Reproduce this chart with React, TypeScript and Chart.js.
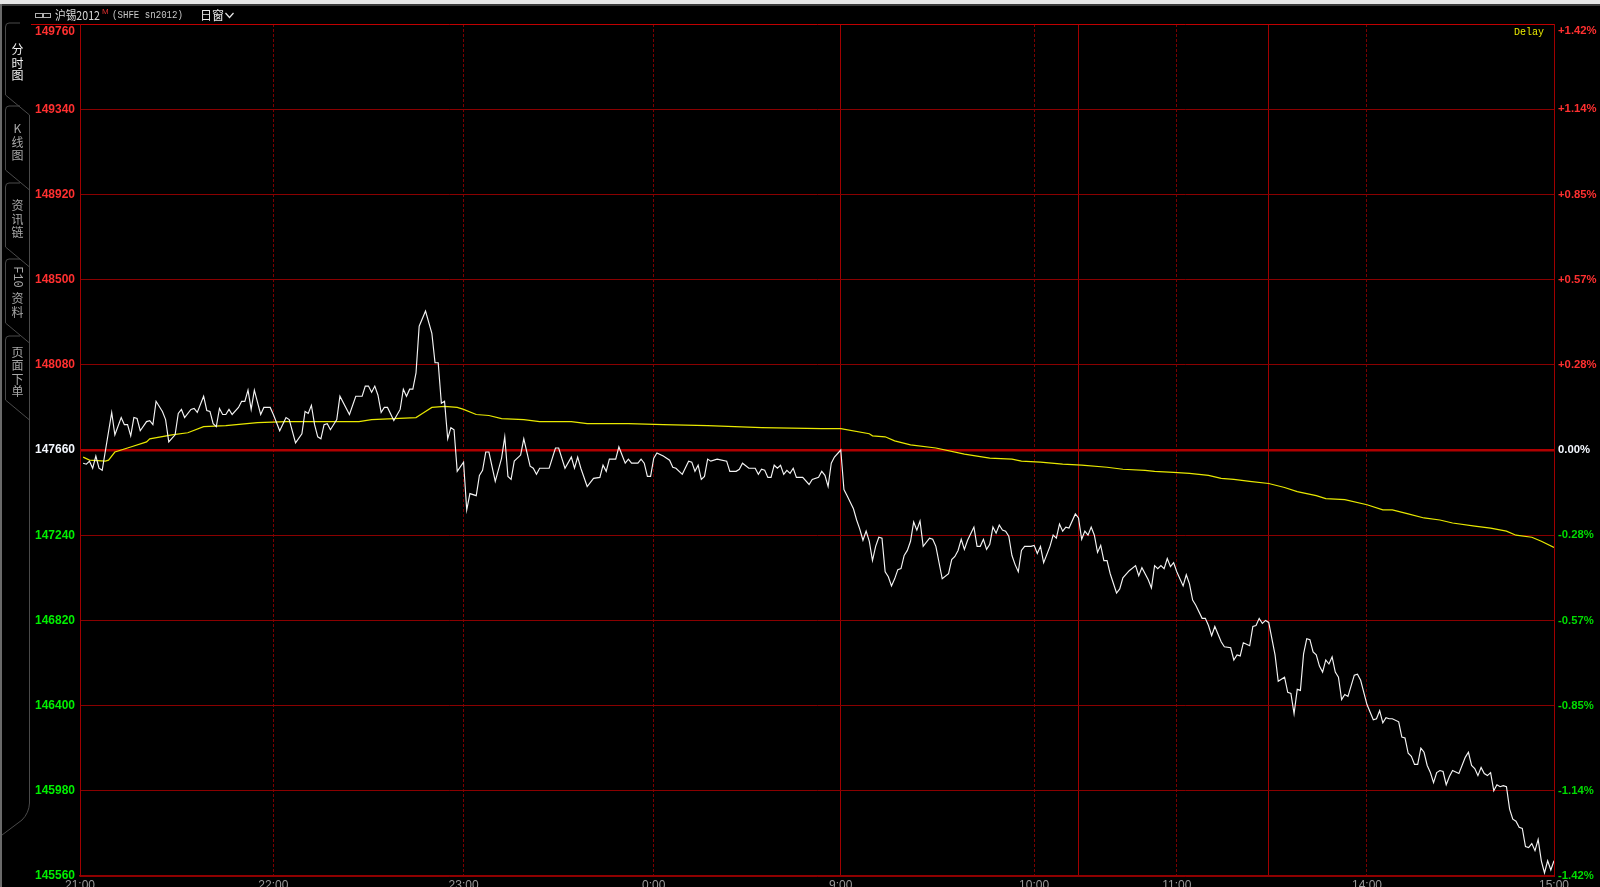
import React, { useEffect, useRef } from "react";
import { Chart, registerables } from "chart.js";

Chart.register(...registerables);

const priceTicks = [149760, 149340, 148920, 148500, 148080, 147660, 147240, 146820, 146400, 145980, 145560];
const pctLabels = ["+1.42%", "+1.14%", "+0.85%", "+0.57%", "+0.28%", "0.00%", "-0.28%", "-0.57%", "-0.85%", "-1.14%", "-1.42%"];
const timeTicks = [0, 61, 121, 181, 240, 301, 315, 346, 375, 406, 465];
const timeLabels = ["21:00", "22:00", "23:00", "0:00", "9:00", "10:00", "", "11:00", "", "14:00", "15:00"];
const sessionBreaks = [0, 240, 315, 375, 465];

const priceMinutes = [
  1, 2, 3, 4, 5, 6, 7, 10, 11, 13, 14, 15, 16, 17, 18, 19, 21, 22, 23, 24, 26, 27, 28, 30, 31, 32, 33, 35, 36, 37, 39, 40, 41, 42, 43, 44, 45, 46, 47, 48,
  50, 51, 52, 53, 54, 55, 57, 58, 60, 61, 63, 65, 66, 68, 70, 71, 72, 73, 74, 75, 76, 77, 78, 79, 81, 82, 85, 87, 89, 90, 91, 92, 93, 94, 95, 96, 97, 99,
  101, 102, 103, 104, 105, 106, 107, 109, 111, 112, 113, 114, 115, 116, 117, 118, 119, 121, 122, 123, 125, 126, 127, 128, 129, 131, 133, 134, 135, 136, 137, 139,
  140, 142, 143, 144, 145, 148, 150, 151, 153, 155, 156, 157, 158, 160, 162, 164, 165, 166, 167, 169, 170, 172, 173, 174, 176, 177, 178, 179, 180,
  181, 182, 184, 186, 187, 188, 190, 192, 193, 194, 195, 196, 197, 198, 199, 201, 204, 205, 207, 208, 209, 211, 213, 214, 215, 216, 217, 218, 219, 220,
  221, 222, 223, 224, 225, 226, 228, 230, 231, 233, 234, 235, 236, 237, 238, 240,
  241, 242, 244, 245, 246, 247, 248, 249, 250, 251, 252, 253, 254, 255, 256, 257, 258, 259, 260, 261, 262, 263, 264, 265, 266, 268, 269, 270, 272, 274, 275, 276, 277, 278, 279, 280,
  282, 283, 284, 285, 286, 287, 288, 289, 290, 291, 292, 293, 294, 295, 296, 297, 298, 300, 301, 302, 303, 304, 306, 307, 308, 309, 310, 311, 312, 314, 315, 316, 317, 318, 319, 320,
  321, 322, 323, 324, 325, 327, 328, 329, 331, 333, 334, 335, 337, 338, 339, 340, 341, 342, 343, 344, 345, 346, 348, 349, 350, 351, 352, 354, 355, 356, 357, 358, 360,
  361, 363, 364, 365, 366, 367, 369, 370, 371, 372, 373, 374, 375, 377, 378, 380, 381, 382, 383, 384, 385, 386, 387, 388, 389, 390, 391, 392, 393, 394, 395, 396, 397, 398, 399, 400,
  402, 403, 404, 406, 408, 409, 410, 411, 412, 413, 414, 416, 417, 418, 419, 420, 421, 422, 423, 424, 425, 426, 427, 428, 429, 430, 431, 432, 433, 435, 437, 438, 439, 440,
  441, 442, 443, 444, 445, 446, 447, 448, 449, 450, 451, 452, 453, 454, 455, 456, 457, 458, 459, 460, 461, 462, 463, 464, 465,
];

const prices = [
  147595, 147590, 147605, 147570, 147630, 147570, 147560, 147845, 147735, 147820, 147785, 147785, 147730, 147820, 147815, 147755, 147800, 147805, 147785, 147900, 147850, 147810, 147700, 147735, 147840, 147860, 147820, 147860, 147865, 147845, 147925, 147855, 147850, 147790, 147775, 147865, 147835, 147835, 147860, 147835,
  147870, 147900, 147900, 147955, 147860, 147955, 147835, 147870, 147870, 147835, 147755, 147820, 147810, 147695, 147740, 147850, 147840, 147880, 147785, 147725, 147715, 147785, 147790, 147760, 147810, 147925, 147835, 147925, 147925, 147975, 147975, 147945, 147975, 147930, 147845, 147870, 147870, 147805,
  147860, 147960, 147925, 147960, 147960, 148040, 148270, 148345, 148235, 148090, 148090, 147890, 147900, 147715, 147770, 147760, 147555, 147600, 147365, 147445, 147435, 147535, 147560, 147650, 147650, 147505, 147620, 147725, 147530, 147515, 147605, 147635,
  147715, 147580, 147570, 147540, 147570, 147570, 147670, 147670, 147570, 147625, 147570, 147625, 147570, 147480, 147520, 147525, 147585, 147555, 147615, 147615, 147675, 147595, 147615, 147595, 147595, 147615, 147595, 147530, 147530,
  147620, 147645, 147630, 147610, 147575, 147570, 147540, 147605, 147600, 147555, 147585, 147515, 147530, 147615, 147605, 147615, 147605, 147555, 147555, 147565, 147595, 147570, 147570, 147540, 147565, 147560, 147525, 147525, 147585, 147570,
  147585, 147540, 147560, 147545, 147570, 147525, 147525, 147490, 147515, 147525, 147555, 147535, 147480, 147595, 147625, 147660,
  147465, 147435, 147370, 147315, 147270, 147215, 147260, 147210, 147115, 147185, 147230, 147225, 147060, 147035, 146990, 147025, 147070, 147075, 147140, 147165, 147210, 147305, 147265, 147310, 147185, 147225, 147220, 147185, 147025, 147050, 147120, 147135, 147165, 147220, 147170, 147215,
  147280, 147185, 147185, 147220, 147170, 147195, 147280, 147250, 147290, 147265, 147260, 147235, 147140, 147095, 147060, 147165, 147185, 147185, 147190, 147150, 147185, 147105, 147185, 147240, 147225, 147295, 147260, 147280, 147275, 147345, 147325, 147220, 147260, 147240, 147280, 147240,
  147155, 147190, 147115, 147115, 147050, 146955, 146975, 147030, 147065, 147090, 147040, 147080, 147020, 146980, 147090, 147075, 147090, 147075, 147125, 147085, 147105, 147060, 146990, 147045, 147000, 146920, 146895, 146830, 146830, 146795, 146745, 146790, 146715,
  146690, 146685, 146625, 146650, 146645, 146710, 146695, 146790, 146795, 146830, 146805, 146820, 146810, 146650, 146520, 146540, 146465, 146460, 146360, 146480, 146475, 146655, 146730, 146725, 146665, 146650, 146595, 146565, 146625, 146605, 146640, 146565, 146540, 146430, 146455, 146445,
  146550, 146555, 146525, 146405, 146330, 146335, 146375, 146315, 146340, 146335, 146335, 146320, 146245, 146240, 146165, 146150, 146110, 146110, 146190, 146170, 146105, 146070, 146020, 146070, 146080, 146075, 146010, 146050, 146080, 146065, 146145, 146170, 146105, 146090,
  146055, 146095, 146065, 146055, 146070, 145980, 146010, 146000, 146005, 146000, 145890, 145840, 145830, 145800, 145795, 145705, 145700, 145720, 145685, 145740, 145635, 145575, 145635, 145590, 145635,
];

const avgMinutes = [
  1, 3, 8, 9, 11, 16, 21, 22, 29, 34, 39, 46, 56, 65, 88, 92, 106, 108, 111, 115, 119, 121, 125, 129, 133, 140, 145, 155, 160, 173, 184, 198, 215, 234, 240,
  249, 250, 254, 257, 262, 270, 279, 287, 294, 297, 303, 310, 316, 324, 329, 336, 339, 345, 350, 356, 360, 364, 369, 375, 380, 384, 390, 393, 399, 406, 411, 414, 419, 424, 429, 433, 440, 445, 450, 453, 458, 461, 465,
];

const avgPrices = [
  147625, 147610, 147605, 147610, 147650, 147675, 147700, 147715, 147735, 147745, 147775, 147780, 147795, 147800, 147800, 147810, 147820, 147840, 147870, 147875, 147870, 147860, 147835, 147830, 147815, 147810, 147800, 147800, 147790, 147790, 147785, 147780, 147770, 147765, 147765,
  147740, 147730, 147725, 147705, 147685, 147670, 147640, 147620, 147615, 147605, 147600, 147590, 147585, 147575, 147565, 147560, 147555, 147550, 147545, 147535, 147520, 147515, 147505, 147495, 147475, 147455, 147435, 147420, 147415, 147390, 147365, 147365, 147345, 147325, 147315, 147300, 147285, 147275, 147260, 147240, 147230, 147210, 147180,
];

const BASE = 147660;
const SANS = "'Liberation Sans', Arial, sans-serif";
const CJK = "'Noto Sans CJK SC', sans-serif";
const MONO = "'Liberation Mono', monospace";

const tabs: { top: number; bottom: number; chars: { t: string; y: number }[]; color: string }[] = [
  { top: 23, bottom: 95, color: "#f0f0f0", chars: [{ t: "分", y: 49 }, { t: "时", y: 63 }, { t: "图", y: 75 }] },
  { top: 106, bottom: 170, color: "#a8a8a8", chars: [{ t: "K", y: 128 }, { t: "线", y: 142 }, { t: "图", y: 155 }] },
  { top: 183, bottom: 247, color: "#a8a8a8", chars: [{ t: "资", y: 205 }, { t: "讯", y: 219 }, { t: "链", y: 232 }] },
  { top: 259, bottom: 323, color: "#a8a8a8", chars: [{ t: "资", y: 298 }, { t: "料", y: 312 }] },
  { top: 336, bottom: 400, color: "#a8a8a8", chars: [{ t: "页", y: 352 }, { t: "面", y: 365 }, { t: "下", y: 379 }, { t: "单", y: 391 }] },
];

const chromePlugin = {
  id: "chrome",
  beforeDraw(chart: any) {
    const c = chart.ctx;
    c.save();
    c.fillStyle = "#000";
    c.fillRect(0, 0, chart.width, chart.height);
    c.fillStyle = "#e6e6e6";
    c.fillRect(0, 0, chart.width, 4);
    c.fillStyle = "#3a3a3a";
    c.fillRect(0, 4, chart.width, 2);
    c.fillStyle = "#6a6a6a";
    c.fillRect(0, 4, 2, chart.height);
    c.restore();
  },
  afterDraw(chart: any) {
    const c = chart.ctx;
    c.save();
    c.strokeStyle = "#4a4a4a";
    c.lineWidth = 1;
    tabs.forEach((tab) => {
      c.beginPath();
      c.moveTo(20, tab.top);
      c.lineTo(9, tab.top);
      c.quadraticCurveTo(5.5, tab.top, 5.5, tab.top + 4);
      c.lineTo(5.5, tab.bottom);
      c.lineTo(29.5, tab.bottom + 20);
      c.stroke();
    });
    c.beginPath();
    c.moveTo(29.5, 115);
    c.lineTo(29.5, 803);
    c.quadraticCurveTo(29, 813, 22, 820);
    c.lineTo(2, 835);
    c.stroke();
    c.strokeStyle = "#c00000";
    c.beginPath();
    c.moveTo(31, 24.5);
    c.lineTo(80, 24.5);
    c.stroke();
    c.textAlign = "center";
    c.textBaseline = "middle";
    tabs.forEach((tab) => {
      c.fillStyle = tab.color;
      c.font = `12px ${CJK}`;
      tab.chars.forEach((ch) => c.fillText(ch.t, 17.5, ch.y));
    });
    c.save();
    c.translate(17.5, 277);
    c.rotate(Math.PI / 2);
    c.fillStyle = "#a8a8a8";
    c.font = `12px ${MONO}`;
    c.fillText("F10", 0, 0);
    c.restore();
    c.textAlign = "left";
    c.fillStyle = "#d8d8d8";
    c.strokeStyle = "#b0b0b0";
    c.lineWidth = 1;
    c.strokeRect(35.5, 13.5, 7, 4);
    c.strokeRect(43.5, 13.5, 7, 4);
    c.font = `12px ${CJK}`;
    c.fillText("沪锡2012", 55, 15, 45);
    c.fillStyle = "#e03030";
    c.font = `8px ${SANS}`;
    c.fillText("M", 102, 12);
    c.fillStyle = "#c8c8c8";
    c.font = `11px ${MONO}`;
    c.fillText("(SHFE sn2012)", 112, 15.5, 71);
    c.fillStyle = "#e8e8e8";
    c.font = `12px ${CJK}`;
    c.fillText("日窗", 200, 15);
    c.strokeStyle = "#e8e8e8";
    c.lineWidth = 1.2;
    c.beginPath();
    c.moveTo(225.5, 13);
    c.lineTo(229.5, 17.5);
    c.lineTo(233.5, 13);
    c.stroke();
    c.fillStyle = "#e8e800";
    c.font = `10px ${MONO}`;
    c.textAlign = "right";
    c.fillText("Delay", 1544, 32);
    c.restore();
  },
};

const tickColor = (value: number, bright: string) =>
  value > BASE ? "#ff3030" : value < BASE ? bright : "#f4f8ff";

export default function App() {
  const ref = useRef<HTMLCanvasElement>(null);
  useEffect(() => {
    const chart = new Chart(ref.current as HTMLCanvasElement, {
      type: "line",
      plugins: [chromePlugin],
      data: {
        datasets: [
          {
            label: "价格",
            data: priceMinutes.map((m, i) => ({ x: m, y: prices[i] })),
            borderColor: "#f4f4f4",
            borderWidth: 1.15,
            pointRadius: 0,
            tension: 0,
          },
          {
            label: "均价",
            data: avgMinutes.map((m, i) => ({ x: m, y: avgPrices[i] })),
            borderColor: "#e8e800",
            borderWidth: 1.2,
            pointRadius: 0,
            tension: 0,
          },
        ],
      },
      options: {
        responsive: false,
        animation: false,
        devicePixelRatio: 1,
        layout: { padding: { top: 24, left: 0, right: 0, bottom: 0 } },
        plugins: { legend: { display: false }, tooltip: { enabled: false }, title: { display: false } },
        scales: {
          x: {
            type: "linear",
            min: 0,
            max: 465,
            afterBuildTicks: (s: any) => {
              s.ticks = timeTicks.map((value) => ({ value }));
            },
            afterFit: (s: any) => {
              s.height = 11;
            },
            ticks: {
              autoSkip: false,
              maxRotation: 0,
              padding: 2,
              color: "#9a9a9a",
              font: { family: SANS, size: 12 },
              callback: (v: any) => timeLabels[timeTicks.indexOf(Number(v))] ?? "",
            },
            grid: {
              drawTicks: false,
              lineWidth: 1,
              color: (ctx: any) => (sessionBreaks.includes(ctx.tick?.value) ? "#a00000" : "#7a0000"),
            },
            border: {
              display: true,
              color: "#900000",
              width: 1.5,
              dash: (ctx: any) => (sessionBreaks.includes(ctx.tick?.value) ? [] : [3, 2]),
            },
          },
          y: {
            type: "linear",
            position: "left",
            min: 145560,
            max: 149760,
            afterBuildTicks: (s: any) => {
              s.ticks = priceTicks.map((value) => ({ value }));
            },
            afterFit: (s: any) => {
              s.width = 80;
              s.paddingBottom = 0;
            },
            ticks: {
              autoSkip: false,
              padding: 5,
              font: { family: SANS, size: 12, weight: "bold", lineHeight: 1.3 },
              color: (ctx: any) => tickColor(ctx.tick.value, "#00f000"),
              callback: (v: any) => (Number(v) === 149760 ? ["", String(v)] : String(v)),
            },
            grid: {
              drawTicks: false,
              color: (ctx: any) => (ctx.tick?.value === BASE ? "#b00000" : ctx.tick?.value === 149760 ? "#c00000" : "#8a0000"),
              lineWidth: (ctx: any) => (ctx.tick?.value === BASE ? 2.4 : 1),
            },
            border: { display: true, color: "#a00000", width: 1 },
          },
          yPct: {
            type: "linear",
            position: "right",
            min: 145560,
            max: 149760,
            afterBuildTicks: (s: any) => {
              s.ticks = priceTicks.map((value) => ({ value }));
            },
            afterFit: (s: any) => {
              s.width = 46;
              s.paddingBottom = 0;
            },
            ticks: {
              autoSkip: false,
              padding: 4,
              font: { family: SANS, size: 11.3, weight: "bold", lineHeight: 1.3 },
              color: (ctx: any) => tickColor(ctx.tick.value, "#00dc00"),
              callback: (v: any) => {
                const label = pctLabels[priceTicks.indexOf(Number(v))];
                return Number(v) === 149760 ? ["", label] : label;
              },
            },
            grid: { display: false, drawTicks: false },
            border: { display: true, color: "#a00000", width: 1 },
          },
        },
      },
    } as any);
    return () => chart.destroy();
  }, []);
  return (
    <canvas
      ref={ref}
      width={1600}
      height={887}
      style={{ position: "fixed", left: 0, top: 0, width: 1600, height: 887, display: "block" }}
    />
  );
}
